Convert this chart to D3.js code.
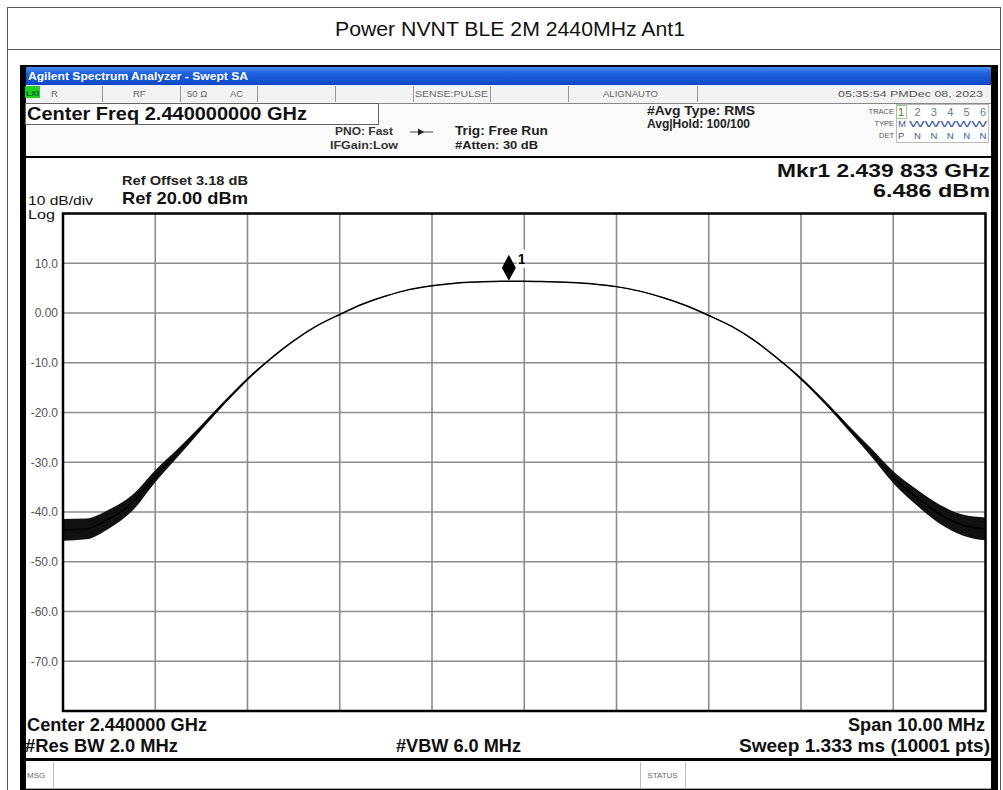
<!DOCTYPE html>
<html>
<head>
<meta charset="utf-8">
<script src="https://cdn.jsdelivr.net/npm/d3@7"></script>
<style>
  body { margin: 0; background: #fff; }
  svg text { font-family: "Liberation Sans", Arial, sans-serif; }
</style>
</head>
<body>
<div id="chart"></div>
<script>
// trace, 0.25 MHz apart
var freqMHz = [2435.00, 2435.25, 2435.50, 2435.75, 2436.00, 2436.25, 2436.50, 2436.75,
               2437.00, 2437.25, 2437.50, 2437.75, 2438.00, 2438.25, 2438.50, 2438.75,
               2439.00, 2439.25, 2439.50, 2439.75, 2440.00, 2440.25, 2440.50, 2440.75,
               2441.00, 2441.25, 2441.50, 2441.75, 2442.00, 2442.25, 2442.50, 2442.75,
               2443.00, 2443.25, 2443.50, 2443.75, 2444.00, 2444.25, 2444.50, 2444.75,
               2445.00];
var levelDbm = [-43.6, -43.4, -41.4, -38.2, -32.8, -28.0, -23.0, -18.0,
                -13.3, -9.2, -5.6, -2.6, -0.3, 1.8, 3.4, 4.7,
                5.5, 6.0, 6.25, 6.4, 6.4, 6.3, 6.15, 5.85,
                5.3, 4.4, 3.1, 1.5, -0.5, -2.7, -5.6, -9.2,
                -13.2, -17.8, -22.8, -27.8, -33.0, -37.0, -40.4, -42.6,
                -43.4];
// half width of the noisy band around the trace
var noiseDb = [2.2, 2.1, 1.9, 1.6, 1.2, 0.8, 0.5, 0.35,
               0.25, 0.15, 0.1, 0.05, 0.05, 0.05, 0.05, 0.05,
               0.05, 0.05, 0.05, 0.05, 0.05, 0.05, 0.05, 0.05,
               0.05, 0.05, 0.05, 0.05, 0.05, 0.05, 0.1, 0.15,
               0.25, 0.35, 0.5, 0.8, 1.2, 1.6, 1.9, 2.1,
               2.3];

var yTicks = [10, 0, -10, -20, -30, -40, -50, -60, -70];
var yTickLabels = ['10.0', '0.00', '-10.0', '-20.0', '-30.0', '-40.0', '-50.0', '-60.0', '-70.0'];
var xTicks = [2435, 2436, 2437, 2438, 2439, 2440, 2441, 2442, 2443, 2444, 2445];

var markerFreq = 2439.833;
var markerLevel = 6.486;

(function() {
  var W = 1003, H = 790;
  var svg = d3.select('#chart').append('svg')
      .attr('width', W).attr('height', H);

  var txt = function(s, x, y, o) {
    o = o || {};
    var t = svg.append('text')
        .attr('x', x).attr('y', y)
        .attr('font-size', o.size || 12)
        .attr('font-weight', o.weight || 'normal')
        .attr('fill', o.fill || '#111')
        .attr('text-anchor', o.anchor || 'start')
        .text(s);
    if (o.len) {
      t.attr('textLength', o.len).attr('lengthAdjust', 'spacingAndGlyphs');
    }
    return t;
  };
  var line = function(x1, y1, x2, y2, c, w) {
    svg.append('line').attr('x1', x1).attr('y1', y1).attr('x2', x2).attr('y2', y2)
      .attr('stroke', c).attr('stroke-width', w || 1);
  };

  // page frame + title
  svg.append('rect').attr('width', W).attr('height', H).attr('fill', '#fff');
  svg.append('rect').attr('x', 7.5).attr('y', 7.5).attr('width', 993).attr('height', 800)
    .attr('fill', 'none').attr('stroke', '#555');
  line(7, 49.5, 1001, 49.5, '#555');
  txt('Power NVNT BLE 2M 2440MHz Ant1', 510, 36, {size: 20.5, anchor: 'middle', len: 350});

  // screenshot body
  svg.append('rect').attr('x', 20).attr('y', 65).attr('width', 978).attr('height', 730).attr('fill', '#000');

  var grad = svg.append('defs').append('linearGradient').attr('id', 'bar')
      .attr('x1', 0).attr('y1', 0).attr('x2', 0).attr('y2', 1);
  grad.append('stop').attr('offset', 0).attr('stop-color', '#4a8cf2');
  grad.append('stop').attr('offset', 0.35).attr('stop-color', '#1f62e0');
  grad.append('stop').attr('offset', 1).attr('stop-color', '#0c47c4');
  svg.append('rect').attr('x', 26).attr('y', 67).attr('width', 965).attr('height', 18).attr('fill', 'url(#bar)');
  txt('Agilent Spectrum Analyzer - Swept SA', 28, 80, {size: 11, weight: 'bold', fill: '#fff', len: 220});

  // status row
  svg.append('rect').attr('x', 26).attr('y', 85).attr('width', 965).attr('height', 18).attr('fill', '#f2f2f2');
  svg.append('rect').attr('x', 25).attr('y', 86).attr('width', 15).attr('height', 12).attr('fill', '#22d022');
  txt('LXI', 26, 96, {size: 8, weight: 'bold', fill: '#063', len: 13});
  [102, 180, 257, 335, 413, 490, 568, 697].forEach(function(x) {
    line(x + 0.5, 86, x + 0.5, 102, '#999');
  });
  var st = {size: 9.5, fill: '#666'};
  txt('R', 51, 97, st);
  txt('RF', 133, 97, st);
  txt('50 \u03a9', 187, 97, st);
  txt('AC', 230, 97, st);
  txt('SENSE:PULSE', 415, 97, {size: 9.5, fill: '#666', len: 73});
  txt('ALIGNAUTO', 603, 97, {size: 9.5, fill: '#666', len: 55});
  txt('05:35:54 PMDec 08, 2023', 838, 97, {size: 9.5, fill: '#555', len: 145});

  // settings block
  svg.append('rect').attr('x', 26).attr('y', 103).attr('width', 965).attr('height', 53).attr('fill', '#fafafa');
  line(26, 103.5, 991, 103.5, '#888');
  svg.append('rect').attr('x', 25.5).attr('y', 103.5).attr('width', 353).attr('height', 21)
    .attr('fill', '#fff').attr('stroke', '#666');
  txt('Center Freq 2.440000000 GHz', 27, 120, {size: 18, weight: 'bold', len: 280});
  txt('PNO: Fast', 335, 135, {size: 11, weight: 'bold', fill: '#333', len: 58});
  txt('IFGain:Low', 330, 149, {size: 11, weight: 'bold', fill: '#333', len: 68});
  line(410, 132, 433, 132, '#444', 1);
  svg.append('path').attr('d', 'M418,128.5L424,132L418,135.5Z').attr('fill', '#222');
  txt('Trig: Free Run', 455, 135, {size: 12.5, weight: 'bold', fill: '#222', len: 93});
  txt('#Atten: 30 dB', 455, 149, {size: 11.5, weight: 'bold', fill: '#222', len: 83});
  txt('#Avg Type: RMS', 647, 115, {size: 12, weight: 'bold', fill: '#222', len: 108});
  txt('Avg|Hold: 100/100', 647, 128, {size: 12, weight: 'bold', fill: '#222', len: 103});

  // trace table
  svg.append('rect').attr('x', 896.5).attr('y', 104.5).attr('width', 92).attr('height', 38)
    .attr('fill', '#fff').attr('stroke', '#bbb');
  svg.append('rect').attr('x', 896.5).attr('y', 105.5).attr('width', 10).attr('height', 13)
    .attr('fill', 'none').attr('stroke', '#9c9');
  txt('TRACE', 894, 114, {size: 7.5, fill: '#555', anchor: 'end'});
  txt('TYPE', 894, 126, {size: 7.5, fill: '#555', anchor: 'end'});
  txt('DET', 894, 138, {size: 7.5, fill: '#555', anchor: 'end'});
  ['1', '2', '3', '4', '5', '6'].forEach(function(d, i) {
    txt(d, 898 + i * 16.4, 116, {size: 11, fill: i === 0 ? '#5a6a20' : '#5a78a8'});
  });
  txt('M', 898, 127, {size: 9.5, fill: '#3a5aa0'});
  txt('WWWWW', 909, 127, {size: 9.5, fill: '#3a5aa0', len: 78});
  txt('P', 898, 139, {size: 9.5, fill: '#3a5aa0'});
  ['N', 'N', 'N', 'N', 'N'].forEach(function(d, i) {
    txt(d, 914 + i * 16.4, 139, {size: 9.5, fill: '#3a5aa0'});
  });

  // graph area
  svg.append('rect').attr('x', 26).attr('y', 158).attr('width', 965).attr('height', 600).attr('fill', '#fff');

  var x = d3.scaleLinear().domain([2435, 2445]).range([63, 985.5]);
  var y = d3.scaleLinear().domain([20, -80]).range([213.5, 711]);

  var yAxis = d3.axisLeft(y)
      .tickValues(yTicks)
      .tickSize(0)
      .tickPadding(5)
      .tickFormat(function(d, i) { return yTickLabels[i]; });
  var ga = svg.append('g').attr('transform', 'translate(' + x.range()[0] + ',0)').call(yAxis);
  ga.select('.domain').remove();
  ga.selectAll('text').attr('font-size', 12).attr('fill', '#555')
    .attr('font-family', '"Liberation Sans", Arial, sans-serif');

  var grid = svg.append('g').attr('stroke', '#8c8c8c').attr('stroke-width', 1.6);
  grid.selectAll('line.h').data(yTicks).enter().append('line')
    .attr('x1', x.range()[0]).attr('x2', x.range()[1])
    .attr('y1', function(d) { return y(d); }).attr('y2', function(d) { return y(d); });
  grid.selectAll('line.v').data(xTicks.slice(1, -1)).enter().append('line')
    .attr('y1', y.range()[0]).attr('y2', y.range()[1])
    .attr('x1', function(d) { return x(d); }).attr('x2', function(d) { return x(d); });

  var pts = freqMHz.map(function(f, i) { return {f: f, v: levelDbm[i], n: noiseDb[i]}; });

  svg.append('path').datum(pts)
    .attr('fill', '#111')
    .attr('d', d3.area().curve(d3.curveMonotoneX)
      .x(function(d) { return x(d.f); })
      .y0(function(d) { return y(d.v - d.n); })
      .y1(function(d) { return y(d.v + d.n); }));
  svg.append('path').datum(pts)
    .attr('fill', 'none').attr('stroke', '#000').attr('stroke-width', 1.5)
    .attr('d', d3.line().curve(d3.curveMonotoneX)
      .x(function(d) { return x(d.f); })
      .y(function(d) { return y(d.v); }));

  svg.append('rect').attr('x', x.range()[0]).attr('y', y.range()[0])
    .attr('width', x.range()[1] - x.range()[0]).attr('height', y.range()[1] - y.range()[0])
    .attr('fill', 'none').attr('stroke', '#000').attr('stroke-width', 2.5);

  // marker
  var mx = x(markerFreq), my = y(markerLevel);
  svg.append('rect').attr('x', mx + 8).attr('y', my - 31).attr('width', 9).attr('height', 18).attr('fill', '#fff');
  svg.append('path')
    .attr('d', 'M' + mx + ',' + (my - 26) + 'L' + (mx + 7) + ',' + (my - 13) +
      'L' + mx + ',' + my + 'L' + (mx - 7) + ',' + (my - 13) + 'Z')
    .attr('fill', '#000');
  txt('1', mx + 9, my - 17, {size: 14, weight: 'bold', fill: '#000'});

  // annotations around the graticule
  txt('Ref Offset 3.18 dB', 122, 185, {size: 13, weight: 'bold', fill: '#222', len: 126});
  txt('Ref 20.00 dBm', 122, 204, {size: 17, weight: 'bold', fill: '#111', len: 126});
  txt('10 dB/div', 28, 204.5, {size: 12.5, fill: '#111', len: 65});
  txt('Log', 28, 219, {size: 12.5, fill: '#111', len: 27});
  txt('Mkr1 2.439 833 GHz', 990, 177, {size: 19, weight: 'bold', anchor: 'end', len: 213});
  txt('6.486 dBm', 990, 197, {size: 19, weight: 'bold', anchor: 'end', len: 117});

  txt('Center 2.440000 GHz', 27, 731, {size: 18, weight: 'bold', len: 180});
  txt('#Res BW 2.0 MHz', 25, 752, {size: 18, weight: 'bold', len: 153});
  txt('#VBW 6.0 MHz', 396, 752, {size: 18, weight: 'bold', len: 125});
  txt('Span 10.00 MHz', 985, 731, {size: 18, weight: 'bold', anchor: 'end', len: 137});
  txt('Sweep  1.333 ms (10001 pts)', 990, 752, {size: 18, weight: 'bold', anchor: 'end', len: 251});

  // message bar
  svg.append('rect').attr('x', 26).attr('y', 761).attr('width', 965).attr('height', 27).attr('fill', '#fff');
  line(26, 788.5, 991, 788.5, '#aaa');
  line(53.5, 762, 53.5, 788, '#bbb');
  line(640.5, 762, 640.5, 788, '#bbb');
  line(685.5, 762, 685.5, 788, '#bbb');
  txt('MSG', 27, 778, {size: 8, fill: '#666'});
  txt('STATUS', 662.5, 778, {size: 8, fill: '#666', anchor: 'middle'});
}());
</script>
</body>
</html>
